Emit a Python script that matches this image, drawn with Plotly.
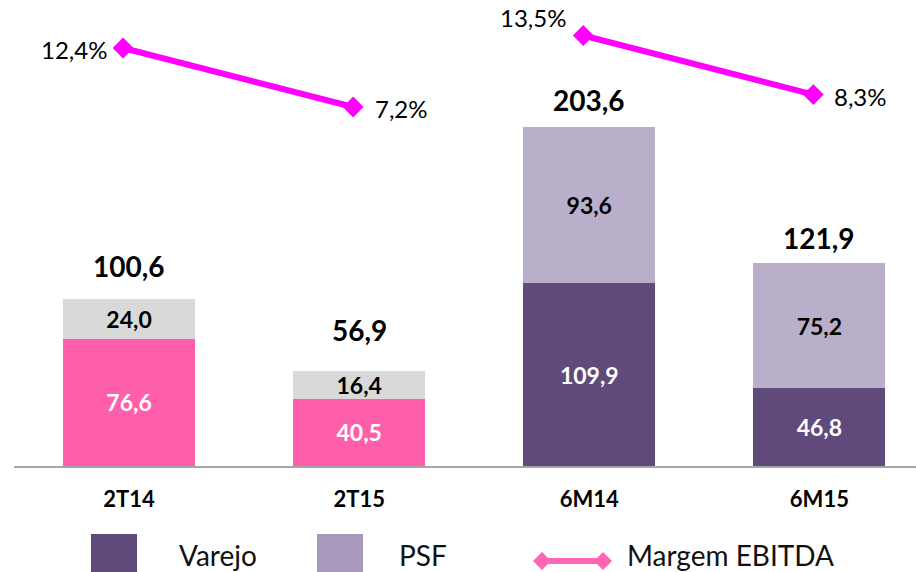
import plotly.graph_objects as go

categories = ["2T14", "2T15", "6M14", "6M15"]
varejo = [76.6, 40.5, 109.9, 46.8]
psf = [24.0, 16.4, 93.6, 75.2]
totals = [100.6, 56.9, 203.6, 121.9]
margem = [12.4, 7.2, 13.5, 8.3]

bottom_colors = ["#FF5EAA", "#FF5EAA", "#604A7B", "#604A7B"]
top_colors = ["#D9D9D9", "#D9D9D9", "#BAAFCA", "#BAAFCA"]


def br(v):
    return f"{v:.1f}".replace(".", ",")


FONT = "Lato, 'Open Sans', sans-serif"
W, H = 916, 572
L, R, T, B = 14, 0, 0, 106
PW, PH = W - L - R, H - T - B


def pxx(x):
    return (x - L) / PW


def pxy(y):
    return (H - B - y) / PH


fig = go.Figure()

fig.add_trace(go.Bar(
    x=categories, y=varejo, name="Varejo",
    marker=dict(color=bottom_colors, line=dict(width=0)),
    text=["<b>" + br(v) + "</b>" for v in varejo], textposition="inside",
    insidetextanchor="middle", constraintext="none",
    textfont=dict(family=FONT, size=23, color="white", weight="bold"),
    showlegend=False, hoverinfo="skip",
))
fig.add_trace(go.Bar(
    x=categories, y=psf, name="PSF",
    marker=dict(color=top_colors, line=dict(width=0)),
    text=["<b>" + br(v) + "</b>" for v in psf], textposition="inside",
    insidetextanchor="middle", constraintext="none",
    textfont=dict(family=FONT, size=23, color="black", weight="bold"),
    showlegend=False, hoverinfo="skip",
))

# line on overlaid axes (slightly shifted like the original)
for seg in ([0, 1], [2, 3]):
    fig.add_trace(go.Scatter(
        x=[categories[i] for i in seg], y=[margem[i] for i in seg],
        xaxis="x2", yaxis="y2", mode="lines+markers",
        line=dict(color="#FF00FF", width=6),
        marker=dict(symbol="diamond", size=16, color="#FF00FF"),
        showlegend=False, hoverinfo="skip", cliponaxis=False,
    ))

annotations = []
total_shift = [14, 22, 8, 6]
for c, t, s in zip(categories, totals, total_shift):
    annotations.append(dict(text="<b>" + br(t) + "</b>", x=c, y=t, xref="x", yref="y",
                            xanchor="center", yanchor="bottom", yshift=s,
                            showarrow=False,
                            font=dict(family=FONT, size=28, color="black")))

pct_anchor = ["right", "left", "right", "left"]
pct_xshift = [-14, 20, -15, 19]
pct_yshift = [-1, -1, 18, -2]
for c, m, a, xs, ys in zip(categories, margem, pct_anchor, pct_xshift, pct_yshift):
    annotations.append(dict(text=br(m) + "%", x=c, y=m, xref="x2", yref="y2",
                            xanchor=a, yanchor="middle", xshift=xs, yshift=ys,
                            showarrow=False,
                            font=dict(family=FONT, size=24, color="black")))

shapes = []
# legend swatches
shapes.append(dict(type="rect", xref="paper", yref="paper",
                   x0=pxx(91), x1=pxx(137), y0=pxy(534), y1=pxy(572),
                   fillcolor="#604A7B", line=dict(width=0)))
shapes.append(dict(type="rect", xref="paper", yref="paper",
                   x0=pxx(317), x1=pxx(363), y0=pxy(534), y1=pxy(572),
                   fillcolor="#A898BC", line=dict(width=0)))
shapes.append(dict(type="line", xref="paper", yref="paper",
                   x0=pxx(540), x1=pxx(605), y0=pxy(561), y1=pxy(561),
                   line=dict(color="#FF66B3", width=6)))
for cx in (542, 603):
    path = (f"M {pxx(cx-9)} {pxy(561)} L {pxx(cx)} {pxy(552)} "
            f"L {pxx(cx+9)} {pxy(561)} L {pxx(cx)} {pxy(570)} Z")
    shapes.append(dict(type="path", xref="paper", yref="paper", path=path,
                       fillcolor="#FF66B3", line=dict(width=0)))

for txt, cx in (("Varejo", 218), ("PSF", 423), ("Margem EBITDA", 730)):
    annotations.append(dict(text=txt, xref="paper", yref="paper",
                            x=pxx(cx), y=pxy(555), xanchor="center",
                            yanchor="middle", showarrow=False,
                            font=dict(family=FONT, size=28, color="#111111")))

fig.update_layout(
    width=W, height=H,
    margin=dict(l=L, r=R, t=T, b=B),
    barmode="stack", bargap=0.426,
    plot_bgcolor="white", paper_bgcolor="white",
    xaxis=dict(type="category", range=[-0.5, 3.42], showgrid=False,
               showline=True, linecolor="#A6A6A6", linewidth=2,
               ticks="", ticklabelstandoff=13,
               tickfont=dict(family=FONT, size=22, color="black", weight="bold")),
    xaxis2=dict(type="category", range=[-0.5 + 0.026, 3.42 + 0.026],
                overlaying="x", visible=False, showgrid=False),
    yaxis=dict(range=[0, 280], visible=False, showgrid=False),
    yaxis2=dict(range=[-24.43, 16.63], overlaying="y", visible=False,
                showgrid=False),
    shapes=shapes, annotations=annotations,
)

fig.write_html("out.html", config={"displayModeBar": False},
               post_script="document.body.style.margin='0';")
